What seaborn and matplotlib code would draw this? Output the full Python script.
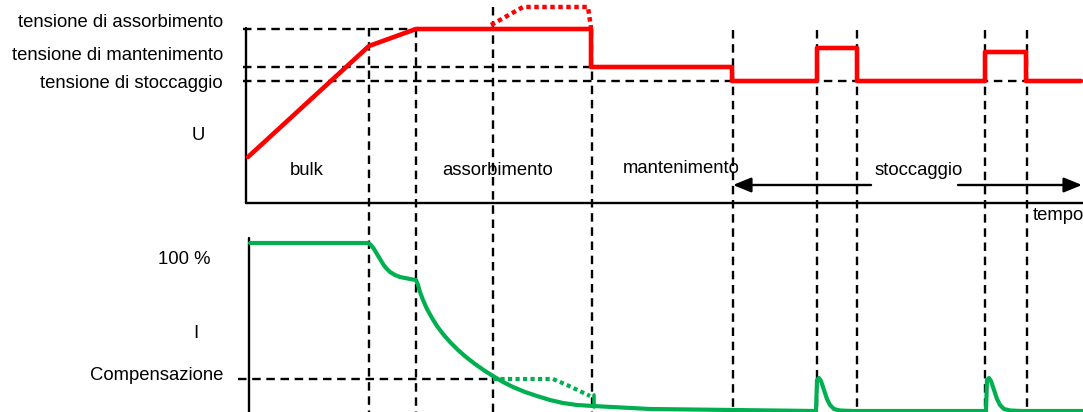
import matplotlib
matplotlib.use('Agg')
import matplotlib.pyplot as plt
import seaborn as sns

# --- DATA (diagram units: x = time, y = screen level, 0 at top) ---
# voltage profile U (red)
RED_T = [248, 369, 416, 591, 591, 732, 732, 817, 817, 857, 857, 985, 985, 1026, 1026, 1081]
RED_U = [157, 46, 29, 29, 67, 67, 81, 81, 48, 48, 81, 81, 52, 52, 81, 81]
RED_DOT_T = [491, 523, 588, 591]
RED_DOT_U = [25, 7, 7, 28]

# current profile I (green)
GREEN_T = [250, 368, 371, 374, 377, 380, 383, 386, 390, 395, 400, 405, 410, 416,
           418, 420, 423, 427, 432, 437, 443, 450, 458, 466, 475, 485, 493, 503, 513,
           525, 537, 550, 563, 577, 593, 650, 733, 816,
           817, 819, 821, 824, 827, 830, 834, 840, 853,
           986, 987, 989, 991, 994, 997, 1000, 1004, 1010, 1022, 1083]
GREEN_I = [243, 243, 245, 249, 254, 259, 264, 268, 272, 275, 277, 278, 279, 280,
           285, 292, 300, 309, 318, 326, 334, 342, 350, 357, 364, 371, 376, 382, 387,
           392, 396, 400, 403, 405, 406, 409, 410, 411,
           380, 378, 381, 390, 399, 405, 409, 410.5, 411,
           411, 380, 378, 381, 390, 399, 405, 409, 410.5, 411, 411]
GREEN_DOT_T = [493, 553, 567, 590]
GREEN_DOT_I = [379, 379, 385, 396]
GREEN_TICK_T = [594, 594]
GREEN_TICK_I = [395, 407]

# phase boundaries
VLINES_X = [369, 416, 493, 592, 733, 817, 857, 985, 1027]
VLINES_TOP = [28, 29, 7, 29, 30, 30, 30, 30, 30]

# reference levels
LEVEL_NAMES = ["tensione di assorbimento", "tensione di mantenimento", "tensione di stoccaggio"]
LEVEL_Y = [29, 67, 81]
LEVEL_LABEL_Y = [22, 55, 83]
LEVEL_END = [493, 592, 1040]
COMP_Y = 379
COMP_END = 493

PHASES = ["bulk", "assorbimento", "mantenimento", "stoccaggio"]
PHASE_X = [307, 498, 681, 919]
PHASE_Y = [170, 170, 168, 170]

RED = "#FF0000"
GREEN = "#00B050"
FS = 13.3

sns.set_style("white")
plt.rcParams['font.family'] = ['Liberation Sans', 'DejaVu Sans']
plt.rcParams['text.color'] = 'black'

fig = plt.figure(figsize=(10.83, 4.12), dpi=100)
ax = fig.add_axes([0, 0, 1, 1])
ax.set_xlim(0, 1083)
ax.set_ylim(412, 0)
ax.axis('off')

dash = dict(color="black", lw=1.7, linestyle=(0, (3.6, 2.4)))

# axes of the two panels
ax.plot([246, 246], [28, 203], color="black", lw=1.7)
ax.plot([246, 1083], [203, 203], color="black", lw=1.7)
ax.plot([249, 249], [238, 412], color="black", lw=1.7)

# dashed guides
for y, xe in zip(LEVEL_Y, LEVEL_END):
    ax.plot([243, xe], [y, y], **dash)
ax.plot([238, COMP_END], [COMP_Y, COMP_Y], **dash)
for x, yt in zip(VLINES_X, VLINES_TOP):
    ax.plot([x, x], [yt, 412], **dash)

# curves
sns.lineplot(x=RED_T, y=RED_U, sort=False, estimator=None, color=RED, lw=3.3, ax=ax)
sns.lineplot(x=RED_DOT_T, y=RED_DOT_U, sort=False, estimator=None, color=RED, lw=3.2,
             linestyle=(0, (1, 0.8)), ax=ax)
sns.lineplot(x=GREEN_T, y=GREEN_I, sort=False, estimator=None, color=GREEN, lw=3.0, ax=ax)
sns.lineplot(x=GREEN_DOT_T, y=GREEN_DOT_I, sort=False, estimator=None, color=GREEN, lw=3.0,
             linestyle=(0, (1, 0.8)), ax=ax)
sns.lineplot(x=GREEN_TICK_T, y=GREEN_TICK_I, sort=False, estimator=None, color=GREEN, lw=2.6, ax=ax)
for ln in ax.lines:
    ln.set_solid_joinstyle("round")

# storage arrows
arr = dict(arrowstyle="-|>,head_length=1.1,head_width=0.45", color="black", lw=1.7,
           shrinkA=0, shrinkB=0)
ax.annotate("", xy=(733, 185), xytext=(871, 185), arrowprops=arr)
ax.annotate("", xy=(1082, 185), xytext=(958, 185), arrowprops=arr)

# texts
for name, y in zip(LEVEL_NAMES, LEVEL_LABEL_Y):
    ax.text(223, y, name, ha="right", va="center", fontsize=FS, color="black")
for name, x, y in zip(PHASES, PHASE_X, PHASE_Y):
    ax.text(x, y, name, ha="center", va="center", fontsize=FS, color="black")
ax.text(198, 136, "U", ha="center", va="center", fontsize=FS, color="black")
ax.text(1033, 215, "tempo", ha="left", va="center", fontsize=FS, color="black")
ax.text(210, 259, "100 %", ha="right", va="center", fontsize=FS, color="black")
ax.text(196, 333, "I", ha="center", va="center", fontsize=FS, color="black")
ax.text(223, 375, "Compensazione", ha="right", va="center", fontsize=FS, color="black")

fig.savefig("out.png", dpi=100)
plt.close(fig)
